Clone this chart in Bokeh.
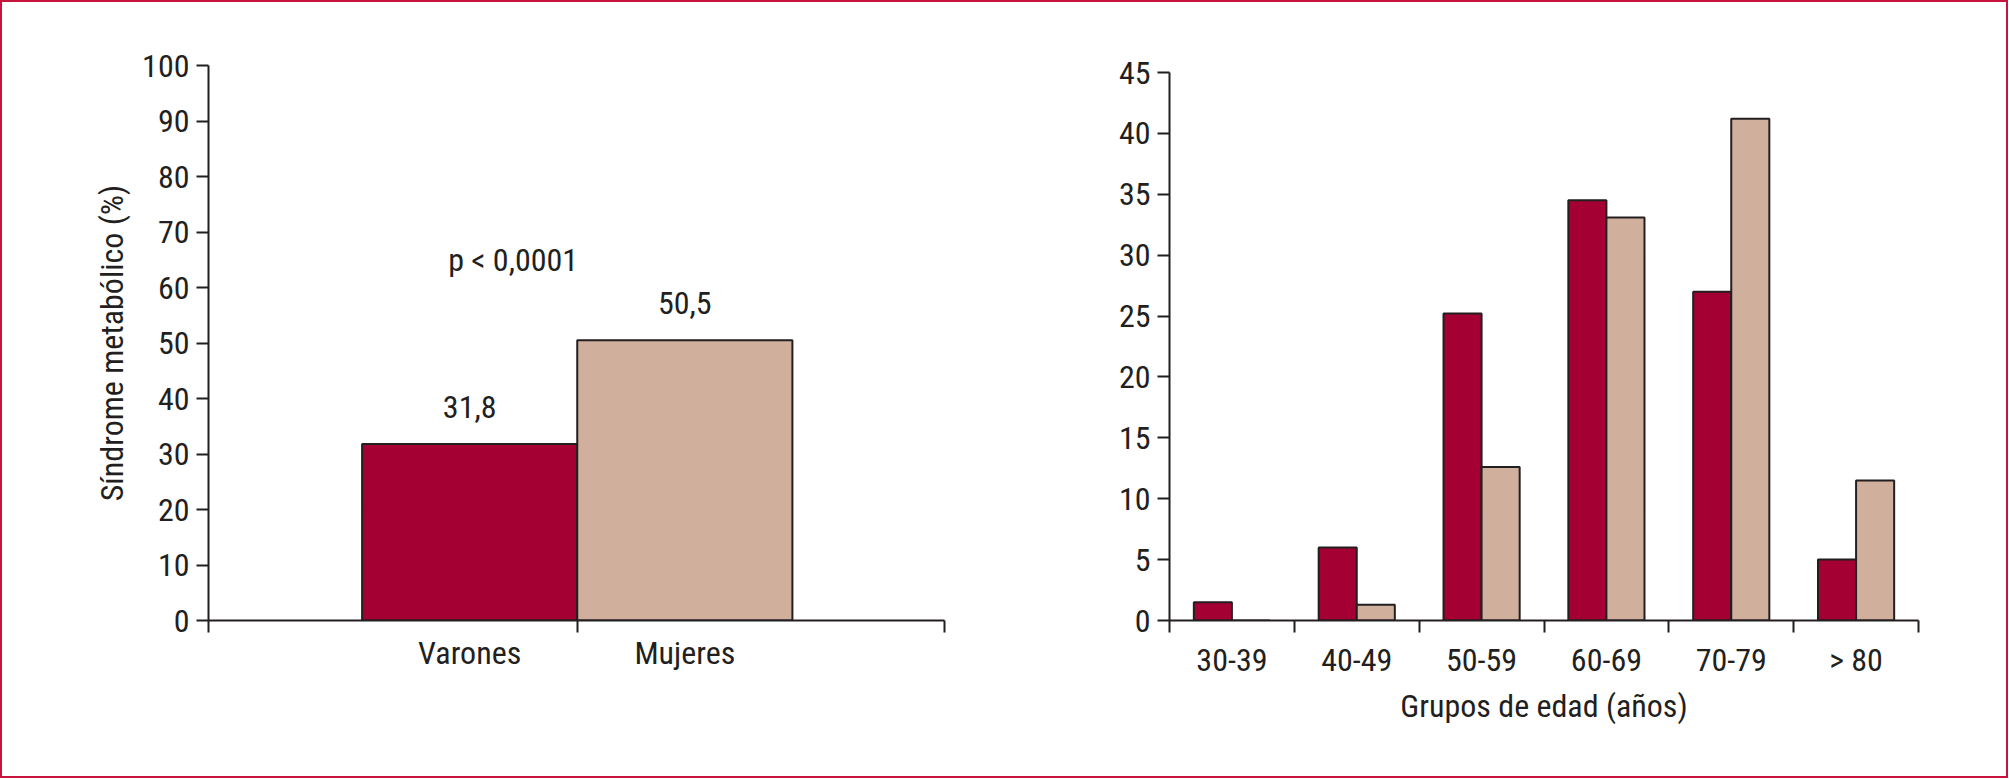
from bokeh.plotting import figure
from bokeh.layouts import row
from bokeh.models import FixedTicker, Range1d, Label
from bokeh.core.properties import value
from bokeh.embed import file_html
from bokeh.resources import INLINE

# ---------------- data ----------------
sex_categories = ["Varones", "Mujeres"]
sex_values = [31.8, 50.5]
sex_value_labels = ["31,8", "50,5"]
p_value_text = "p < 0,0001"
left_yticks = [0, 10, 20, 30, 40, 50, 60, 70, 80, 90, 100]
left_ylabel = "Síndrome metabólico (%)"

age_groups = ["30-39", "40-49", "50-59", "60-69", "70-79", "> 80"]
men_values = [1.5, 6.0, 25.2, 34.5, 27.0, 5.0]
women_values = [0.0, 1.3, 12.6, 33.1, 41.2, 11.5]
right_yticks = [0, 5, 10, 15, 20, 25, 30, 35, 40, 45]
right_xlabel = "Grupos de edad (años)"

# ---------------- style ----------------
FONT = "Roboto Condensed"
INK = "#231f20"
RED = "#a50034"
TAN = "#d0b09d"
FS = "32px"


def style_axes(p):
    for ax in (p.xaxis[0], p.yaxis[0]):
        ax.axis_line_color = INK
        ax.axis_line_width = 2
        ax.major_tick_line_color = INK
        ax.major_tick_line_width = 2
        ax.minor_tick_line_color = INK
        ax.minor_tick_line_width = 2
        ax.major_tick_in = 0
        ax.minor_tick_in = 0
        ax.major_label_text_font = FONT
        ax.major_label_text_font_size = FS
        ax.major_label_text_color = INK
        ax.axis_label_text_font = FONT
        ax.axis_label_text_font_size = FS
        ax.axis_label_text_font_style = "normal"
        ax.axis_label_text_color = INK
    p.xgrid.visible = False
    p.ygrid.visible = False
    p.outline_line_color = None


# ---------------- left chart ----------------
n_sex = len(sex_categories)
sex_x = list(range(1, n_sex + 1))
left_start = 1 - 1.214
left_end = left_start + 3.421

p1 = figure(width=998, height=774, output_backend="svg", toolbar_location=None,
            x_range=Range1d(left_start, left_end),
            y_range=Range1d(left_yticks[0], left_yticks[-1]),
            min_border_left=206, min_border_right=56, min_border_top=63,
            min_border_bottom=156)
p1.vbar(x=sex_x, top=sex_values, width=1.0, fill_color=[RED, TAN],
        line_color=INK, line_width=2)
p1.text(x=sex_x, y=sex_values, text=sex_value_labels, text_align="center",
        text_baseline="middle", y_offset=-37, text_font=value(FONT),
        text_font_size=FS, text_color=INK)
p1.add_layout(Label(x=1.416 - 1.214 + 1, y=65, text=p_value_text,
                    text_align="center", text_baseline="middle",
                    text_font=FONT, text_font_size=FS, text_color=INK))
style_axes(p1)
p1.xaxis.ticker = FixedTicker(ticks=sex_x,
                              minor_ticks=[left_start, 1.5, left_end])
p1.xaxis.major_label_overrides = {x: c for x, c in zip(sex_x, sex_categories)}
p1.xaxis.major_tick_out = 0
p1.xaxis.major_tick_line_color = None
p1.xaxis.minor_tick_out = 12
p1.xaxis.major_label_standoff = 1
p1.yaxis.ticker = FixedTicker(ticks=left_yticks, minor_ticks=[])
p1.yaxis.major_tick_out = 12
p1.yaxis.major_label_standoff = 7
p1.yaxis.axis_label = left_ylabel
p1.yaxis.axis_label_standoff = 8

# ---------------- right chart ----------------
n_age = len(age_groups)
age_x = list(range(n_age))
half = 0.1525
px_per_unit = (555.0 - 7.0) / 45.0
p2 = figure(width=1006, height=774, output_backend="svg", toolbar_location=None,
            x_range=Range1d(-0.5, n_age - 0.5),
            y_range=Range1d(right_yticks[0], right_yticks[-1] + 7 / px_per_unit),
            min_border_left=169, min_border_right=88, min_border_top=63,
            min_border_bottom=156)
p2.vbar(x=[x - half for x in age_x], top=men_values, width=2 * half,
        fill_color=RED, line_color=INK, line_width=2)
p2.vbar(x=[x + half for x in age_x], top=women_values, width=2 * half,
        fill_color=TAN, line_color=INK, line_width=2)
style_axes(p2)
p2.xaxis.ticker = FixedTicker(ticks=age_x,
                              minor_ticks=[x - 0.5 for x in range(n_age + 1)])
p2.xaxis.major_label_overrides = {x: g for x, g in zip(age_x, age_groups)}
p2.xaxis.major_tick_out = 0
p2.xaxis.major_tick_line_color = None
p2.xaxis.minor_tick_out = 12
p2.xaxis.major_label_standoff = 8
p2.xaxis.axis_label = right_xlabel
p2.xaxis.axis_label_standoff = 5
p2.yaxis.ticker = FixedTicker(ticks=right_yticks, minor_ticks=[])
p2.yaxis.bounds = (right_yticks[0], right_yticks[-1])
p2.yaxis.major_tick_out = 12
p2.yaxis.major_label_standoff = 7

layout = row(p1, p2, styles={"border": "2px solid #c8143c"})

open("out.html", "w").write(file_html(layout, INLINE))
